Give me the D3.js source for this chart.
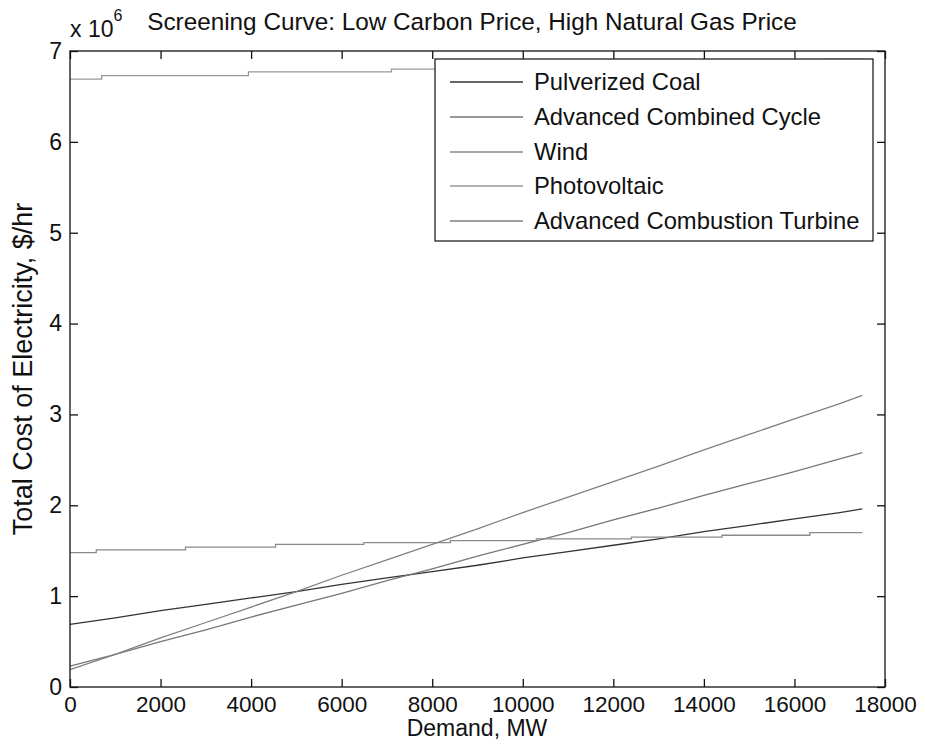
<!DOCTYPE html>
<html lang="en">
<head>
<meta charset="UTF-8">
<title>Screening Curve</title>
<script src="https://d3js.org/d3.v7.min.js"></script>
<style>
  body { margin: 0; background: #fff; }
  text { font-family: "Liberation Sans", Arial, Helvetica, sans-serif; fill: #111; }
</style>
</head>
<body>
<svg width="925" height="749"></svg>
<script>
// demand points (MW) for the sloped curves
var demand = [0, 1000, 2000, 3000, 4000, 5000, 6000, 7000, 8000, 9000, 10000,
              11000, 12000, 13000, 14000, 15000, 16000, 17000, 17500];
// total cost, millions of $/hr
var coal = [0.69, 0.76, 0.84, 0.91, 0.98, 1.05, 1.13, 1.20, 1.27, 1.34, 1.42,
            1.49, 1.56, 1.63, 1.71, 1.78, 1.85, 1.92, 1.96];
var combinedCycle = [0.23, 0.36, 0.50, 0.63, 0.77, 0.90, 1.03, 1.17, 1.30, 1.44, 1.57,
                     1.70, 1.84, 1.97, 2.11, 2.24, 2.37, 2.51, 2.58];
var combustionTurbine = [0.19, 0.36, 0.54, 0.71, 0.88, 1.05, 1.23, 1.40, 1.57, 1.74, 1.92,
                         2.09, 2.26, 2.43, 2.61, 2.78, 2.95, 3.12, 3.21];
// step curves (capacity added in blocks)
var windDemand = [0, 580, 2550, 4540, 6490, 8400, 10300, 12400, 14400, 16340, 17500];
var wind = [1.48, 1.51, 1.54, 1.57, 1.59, 1.61, 1.63, 1.65, 1.67, 1.70, 1.70];
var pvDemand = [0, 700, 3940, 7100, 10300, 13500, 16700, 17500];
var pv = [6.69, 6.73, 6.77, 6.80, 6.84, 6.87, 6.91, 6.91];

var seriesNames = ["Pulverized Coal", "Advanced Combined Cycle", "Wind", "Photovoltaic", "Advanced Combustion Turbine"];
var seriesColors = ["#333333", "#777777", "#8a8a8a", "#999999", "#808080"];
var xTicks = [0, 2000, 4000, 6000, 8000, 10000, 12000, 14000, 16000, 18000];
var yTicks = [0, 1, 2, 3, 4, 5, 6, 7];

var svg = d3.select("svg");
var axLeft = 70, axRight = 885, axTop = 51, axBottom = 687;

var x = d3.scaleLinear().domain([0, 18000]).range([axLeft, axRight]);
var y = d3.scaleLinear().domain([0, 7]).range([axBottom, axTop]);

function pairs(xs, ys) { return xs.map(function(d, i) { return [d, ys[i]]; }); }

var series = [
  { pts: pairs(demand, coal), curve: d3.curveLinear },
  { pts: pairs(demand, combinedCycle), curve: d3.curveLinear },
  { pts: pairs(windDemand, wind), curve: d3.curveStepAfter },
  { pts: pairs(pvDemand, pv), curve: d3.curveStepAfter },
  { pts: pairs(demand, combustionTurbine), curve: d3.curveLinear }
];

var g = svg.append("g");

series.forEach(function(s, i) {
  var line = d3.line().x(function(d) { return x(d[0]); }).y(function(d) { return y(d[1]); }).curve(s.curve);
  g.append("path")
    .attr("d", line(s.pts))
    .attr("fill", "none")
    .attr("stroke", seriesColors[i])
    .attr("stroke-width", 1.3);
});

// axes, matlab style: ticks inside on all four sides
var tick = 8;
g.append("g").attr("transform", "translate(0," + axBottom + ")")
  .call(d3.axisBottom(x).tickValues(xTicks).tickSizeInner(-tick).tickSizeOuter(0).tickPadding(9).tickFormat(d3.format("d")))
  .call(function(a) { a.select(".domain").remove(); a.selectAll("text").attr("font-size", 22.5); });
g.append("g").attr("transform", "translate(0," + axTop + ")")
  .call(d3.axisTop(x).tickValues(xTicks).tickSizeInner(-tick).tickSizeOuter(0).tickFormat(""))
  .call(function(a) { a.select(".domain").remove(); });
g.append("g").attr("transform", "translate(" + axLeft + ",0)")
  .call(d3.axisLeft(y).tickValues(yTicks).tickSizeInner(-tick).tickSizeOuter(0).tickPadding(8).tickFormat(d3.format("d")))
  .call(function(a) { a.select(".domain").remove(); a.selectAll("text").attr("font-size", 23); });
g.append("g").attr("transform", "translate(" + axRight + ",0)")
  .call(d3.axisRight(y).tickValues(yTicks).tickSizeInner(-tick).tickSizeOuter(0).tickFormat(""))
  .call(function(a) { a.select(".domain").remove(); });
g.selectAll(".tick line").attr("stroke", "#111").attr("stroke-width", 1.3);
g.selectAll(".tick text").attr("fill", "#111").attr("font-family", "Liberation Sans, Arial, sans-serif");

g.append("rect")
  .attr("x", axLeft).attr("y", axTop)
  .attr("width", axRight - axLeft).attr("height", axBottom - axTop)
  .attr("fill", "none").attr("stroke", "#111").attr("stroke-width", 1.3);

// exponent label
var ex = svg.append("text").attr("x", axLeft).attr("y", 37).attr("font-size", 23);
ex.append("tspan").text("x 10");
ex.append("tspan").attr("dy", -16).attr("font-size", 16).text("6");

svg.append("text").attr("x", 472).attr("y", 30).attr("text-anchor", "middle")
  .attr("font-size", 24.3).text("Screening Curve: Low Carbon Price, High Natural Gas Price");

svg.append("text").attr("x", 477).attr("y", 736).attr("text-anchor", "middle")
  .attr("font-size", 23).text("Demand, MW");

svg.append("text").attr("transform", "translate(32," + ((axTop + axBottom) / 2) + ") rotate(-90)")
  .attr("text-anchor", "middle").attr("font-size", 27)
  .text("Total Cost of Electricity, $/hr");

// legend
var lg = svg.append("g");
lg.append("rect").attr("x", 435).attr("y", 59).attr("width", 438).attr("height", 182)
  .attr("fill", "#fff").attr("stroke", "#222").attr("stroke-width", 1.3);
var rowY = [82, 117, 152, 186, 221];
seriesNames.forEach(function(name, i) {
  lg.append("line").attr("x1", 450).attr("x2", 523).attr("y1", rowY[i]).attr("y2", rowY[i])
    .attr("stroke", seriesColors[i]).attr("stroke-width", 1.3);
  lg.append("text").attr("x", 534).attr("y", rowY[i] + 8).attr("font-size", 23.8).text(name);
});
</script>
</body>
</html>
